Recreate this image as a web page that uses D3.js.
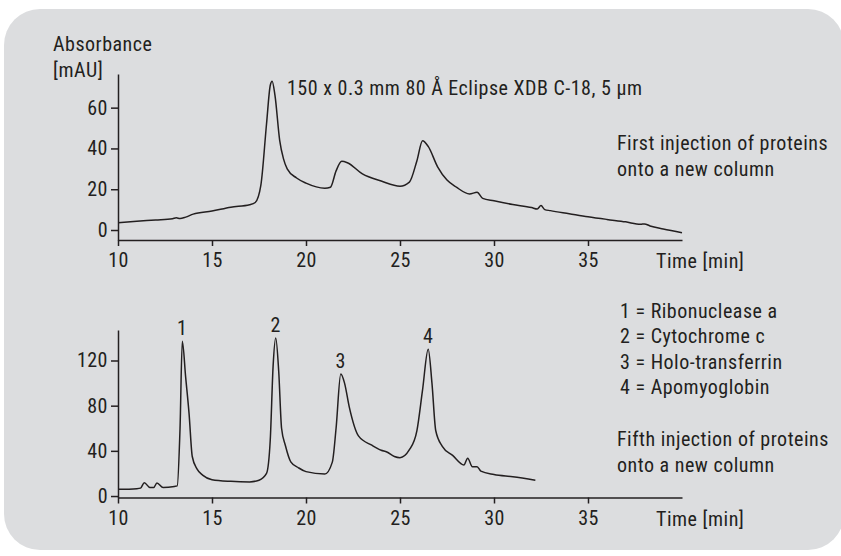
<!DOCTYPE html>
<html><head><meta charset="utf-8">
<script src="https://cdn.jsdelivr.net/npm/d3@7"></script>
<style>
body{margin:0;background:#fff;}
text{font-family:"Roboto Condensed","Liberation Sans Narrow",Roboto,sans-serif;fill:#231f20;letter-spacing:0.5px;}
</style></head><body>
<svg id="c" width="841" height="556"></svg>
<script>
// first injection trace [time min, mAU]
var firstTrace = [[10,3.6],[11,4.3],[12,4.9],[12.9,5.5],[13.1,6],[13.3,5.6],[13.6,6.3],[14,7.8],[15,9.3],[16,11.2],[17,12.4],[17.3,13.5],
  [17.6,22],[17.9,52],[18.1,71],[18.2,73],[18.35,66],[18.6,44],[18.8,35],[19,30],[19.5,25.5],[20,23],[21,20.5],[21.3,21],
  [21.6,29],[21.9,33.7],[22.2,33],[23,27.5],[24,24],[25,21.5],[25.5,23.5],[25.9,34],[26.2,43.8],[26.5,41],[27,31],[27.5,24.5],
  [28,21],[28.7,17.7],[29.1,18.5],[29.4,15.5],[30,14.3],[31,12.5],[32,11],[32.3,10.3],[32.5,12],[32.7,10],[33,9.5],[34,8],
  [35,6.5],[36,5.2],[37,4],[37.8,2.8],[38,3],[38.3,2],[39,0.5],[40,-1.3]];
// fifth injection trace
var fifthTrace = [[10,5.9],[11,6.5],[11.2,7],[11.4,11.8],[11.7,7.5],[11.9,7.5],[12.07,11.5],[12.4,7.5],[13,8.5],[13.15,9],
  [13.3,60],[13.42,137],[13.6,105],[13.78,73],[13.95,35],[14.2,24],[14.5,18.5],[15,14.5],[16,13],[17,12.5],[17.5,14],[17.9,20],
  [18.1,50],[18.25,115],[18.39,140],[18.55,110],[18.7,60],[18.9,45],[19.2,30],[19.6,25],[20,21.6],[21,19.5],[21.4,30],[21.6,60],
  [21.85,108],[22.05,100],[22.3,79],[22.8,53],[23.5,45],[24,40.5],[24.3,39],[24.7,35],[25,34],[25.5,41],[25.9,58],[26.2,94],
  [26.5,130],[26.7,100],[26.9,58],[27.25,44],[27.8,36],[28.4,27.5],[28.6,33.5],[28.85,26],[29.1,26],[29.3,22],[30,19],[31,17],[32.2,14]];
var firstTicks = [0,20,40,60];
var fifthTicks = [0,40,80,120];
var timeTicks = [10,15,20,25,30,35];
var peakLabels = [{n:'1',t:13.42,v:137},{n:'2',t:18.39,v:140},{n:'3',t:21.85,v:108},{n:'4',t:26.5,v:130}];
var legendLines = ['1 = Ribonuclease a','2 = Cytochrome c','3 = Holo-transferrin','4 = Apomyoglobin'];

var svg = d3.select('#c');
svg.append('rect').attr('x',4).attr('y',9).attr('width',840).attr('height',541).attr('rx',36).attr('fill','#dcdddf');

var x = d3.scaleLinear().domain([10,40]).range([118,682]);
var FS = '20px';

function drawPanel(data, yDom, yRange, axisY, ticks) {
    var y = d3.scaleLinear().domain(yDom).range(yRange);
    var g = svg.append('g');
    var ya = g.append('g').attr('transform','translate(118,0)')
        .call(d3.axisLeft(y).tickValues(ticks).tickSize(7).tickPadding(3).tickSizeOuter(0));
    var xa = g.append('g').attr('transform','translate(0,'+axisY+')')
        .call(d3.axisBottom(x).tickValues(timeTicks).tickSize(6).tickSizeOuter(0));
    [ya,xa].forEach(function(a){
        a.selectAll('path,line').attr('stroke','#231f20').attr('stroke-width',1.5);
        a.selectAll('text').style('font-size',FS).attr('fill','#231f20');
    });
    xa.selectAll('text').attr('y',27).attr('dy',0);
    g.append('path').datum(data)
        .attr('fill','none').attr('stroke','#231f20').attr('stroke-width',1.5)
        .attr('d', d3.line().x(d=>x(d[0])).y(d=>y(d[1])).curve(d3.curveMonotoneX));
    g.append('text').attr('x',656).attr('y',axisY+28).style('font-size',FS).text('Time [min]');
    return y;
}

drawPanel(firstTrace, [-4.9, 76.5], [240, 74], 240, firstTicks);
var y2 = drawPanel(fifthTrace, [-1.3, 147], [497.5, 330], 497.5, fifthTicks);

function label(txt, px, py) {
    svg.append('text').attr('x',px).attr('y',py).style('font-size',FS).text(txt);
}
label('Absorbance',53,51);
label('[mAU]',53,77);
label('150 x 0.3 mm 80 Å Eclipse XDB C-18, 5 µm',287,95);
label('First injection of proteins',617,150);
label('onto a new column',617,176);
legendLines.forEach(function(s,i){ label(s,620,318+i*25.3); });
label('Fifth injection of proteins',617,446);
label('onto a new column',617,472);

svg.selectAll('.pk').data(peakLabels).enter().append('text')
    .attr('x',d=>x(d.t)).attr('y',d=>y2(d.v)-6).attr('text-anchor','middle')
    .style('font-size',FS).text(d=>d.n);
</script></body></html>
